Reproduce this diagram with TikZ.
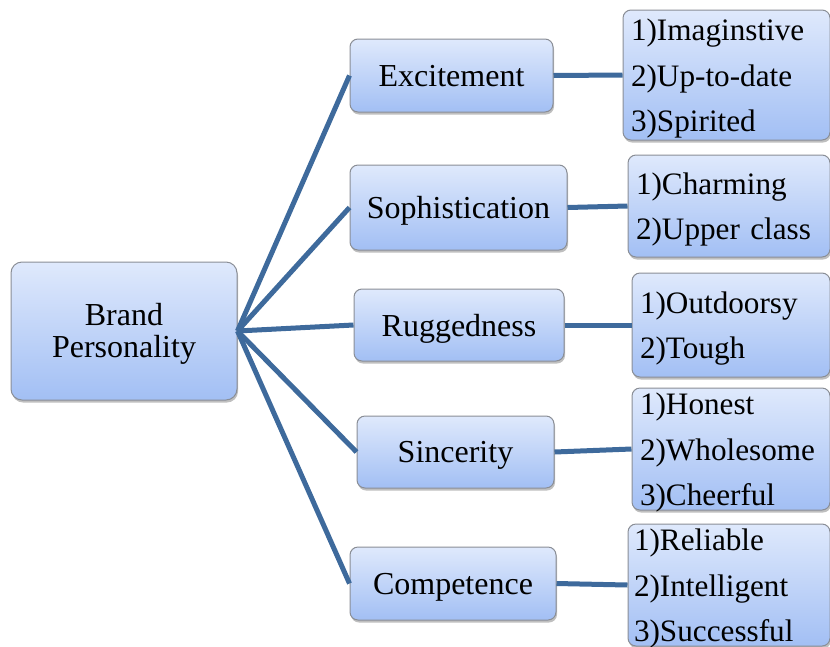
\documentclass[tikz,border=0pt]{standalone}
\usepackage{fontspec}
\setmainfont{Liberation Serif}
\usetikzlibrary{shadows}
\definecolor{linkc}{HTML}{3E6A9C}
\definecolor{topc}{HTML}{DFE9FC}
\definecolor{botc}{HTML}{A2BFF4}
\definecolor{edgec}{HTML}{8A8E96}
\tikzset{
  box/.style={draw=edgec, line width=1pt, rounded corners=8pt, top color=topc, bottom color=botc,
    drop shadow={shadow xshift=1pt, shadow yshift=-2.5pt, opacity=0.25, fill=black},
    inner sep=0pt, font=\fontsize{32}{36}\selectfont, align=center},
  midbox/.style={box, text depth=0pt},
  listbox/.style={box, align=left, inner xsep=8pt, font=\fontsize{31.2}{45.5}\selectfont},
  threelines/.style={listbox, text depth=90.5pt},
  twolines/.style={listbox, text depth=45pt},
  link/.style={draw=linkc, line width=5pt}
}
\begin{document}
\begin{tikzpicture}[x=1pt,y=-1pt]
\useasboundingbox (0,0) rectangle (830,646);
\node[box, rounded corners=11pt, minimum width=226pt, minimum height=138pt, font=\fontsize{32}{32.5}\selectfont, text depth=1pt] (bp) at (124,331) {Brand\\Personality};
\node[midbox, minimum width=203pt, minimum height=73pt] (exc) at (451.5,75.5) {Excitement};
\node[midbox, minimum width=217pt, minimum height=85pt] (sop) at (458.5,207.5) {Sophistication};
\node[midbox, minimum width=210pt, minimum height=72pt] (rug) at (459,325) {Ruggedness};
\node[midbox, minimum width=197pt, minimum height=72pt] (sin) at (455.5,452) {Sincerity};
\node[midbox, minimum width=206pt, minimum height=73pt] (com) at (453,583.5) {Competence};
\node[threelines, text width=191pt, minimum height=130pt] (r1) at (726.5,75) {1)Imaginstive\\2)Up-to-date\\3)Spirited};
\node[twolines, text width=186pt, minimum height=102pt] (r2) at (729,206) {1)Charming\\2)Upper class};
\node[twolines, text width=182pt, minimum height=104pt] (r3) at (731,325) {1)Outdoorsy\\2)Tough};
\node[threelines, text width=182pt, minimum height=122pt] (r4) at (731,449) {1)Honest\\2)Wholesome\\3)Cheerful};
\node[threelines, text width=190pt, minimum height=122pt, inner xsep=6pt] (r5) at (729,585) {1)Reliable\\2)Intelligent\\3)Successful};
\foreach \m in {exc,sop,rug,sin,com} \draw[link] (bp.east) -- (\m.west);
\draw[link] (exc.east) -- (r1.west);
\draw[link] (sop.east) -- (r2.west);
\draw[link] (rug.east) -- (r3.west);
\draw[link] (sin.east) -- (r4.west);
\draw[link] (com.east) -- (r5.west);
\end{tikzpicture}
\end{document}
